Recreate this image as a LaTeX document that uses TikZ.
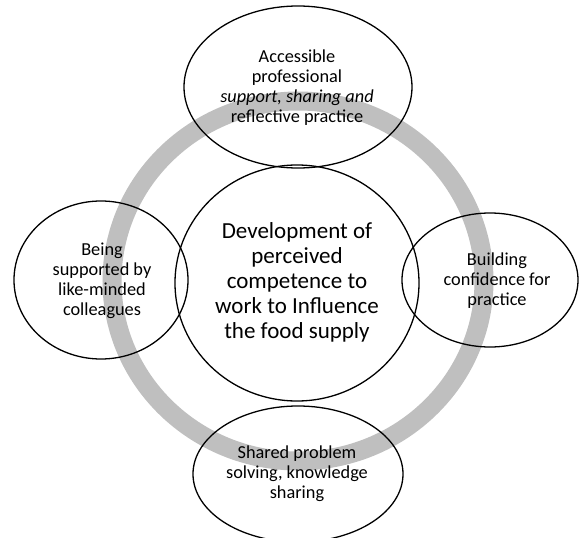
\documentclass[tikz,border=0pt]{standalone}
\usepackage{fontspec}
\setmainfont{Carlito}
\usetikzlibrary{shapes.geometric}
\definecolor{ringgray}{RGB}{191,191,191}
\tikzset{
  bubble/.style={ellipse, draw=black, line width=1.3pt, inner sep=0pt},
  smalltxt/.style={align=center, font=\fontsize{18.3}{20}\selectfont, inner sep=0pt},
  bigtxt/.style={align=center, font=\fontsize{23}{25}\selectfont, inner sep=0pt}
}
\begin{document}
\begin{tikzpicture}[x=1pt,y=-1pt]
\useasboundingbox (0,0) rectangle (579,538);
\clip (0,0) rectangle (579,538);
% grey ring
\draw[ringgray, line width=19pt] (298,281) ellipse [x radius=186pt, y radius=180pt];
% ellipses
\node[bubble, minimum width=228pt, minimum height=162pt] (top) at (298,87) {};
\node[bubble, minimum width=174pt, minimum height=158pt] (left) at (101,280) {};
\node[bubble, minimum width=176pt, minimum height=134pt] (right) at (490,280) {};
\node[bubble, minimum width=210pt, minimum height=136pt] (bottom) at (298,474) {};
\node[bubble, minimum width=244pt, minimum height=236pt] (centre) at (297,283) {};
% texts
\node[smalltxt] (toptxt) at (297,88) {Accessible\\professional\\{\itshape support, sharing and}\\reflective practice};
\node[smalltxt] (lefttxt) at (102,281) {Being\\supported by\\like-minded\\colleagues};
\node[smalltxt] (righttxt) at (497,281) {Building\\confidence for\\practice};
\node[smalltxt] (bottomtxt) at (297,474) {Shared problem\\solving, knowledge\\sharing};
\node[bigtxt] (centretxt) at (297,282) {Development of\\perceived\\competence to\\work to Influence\\the food supply};
\end{tikzpicture}
\end{document}
